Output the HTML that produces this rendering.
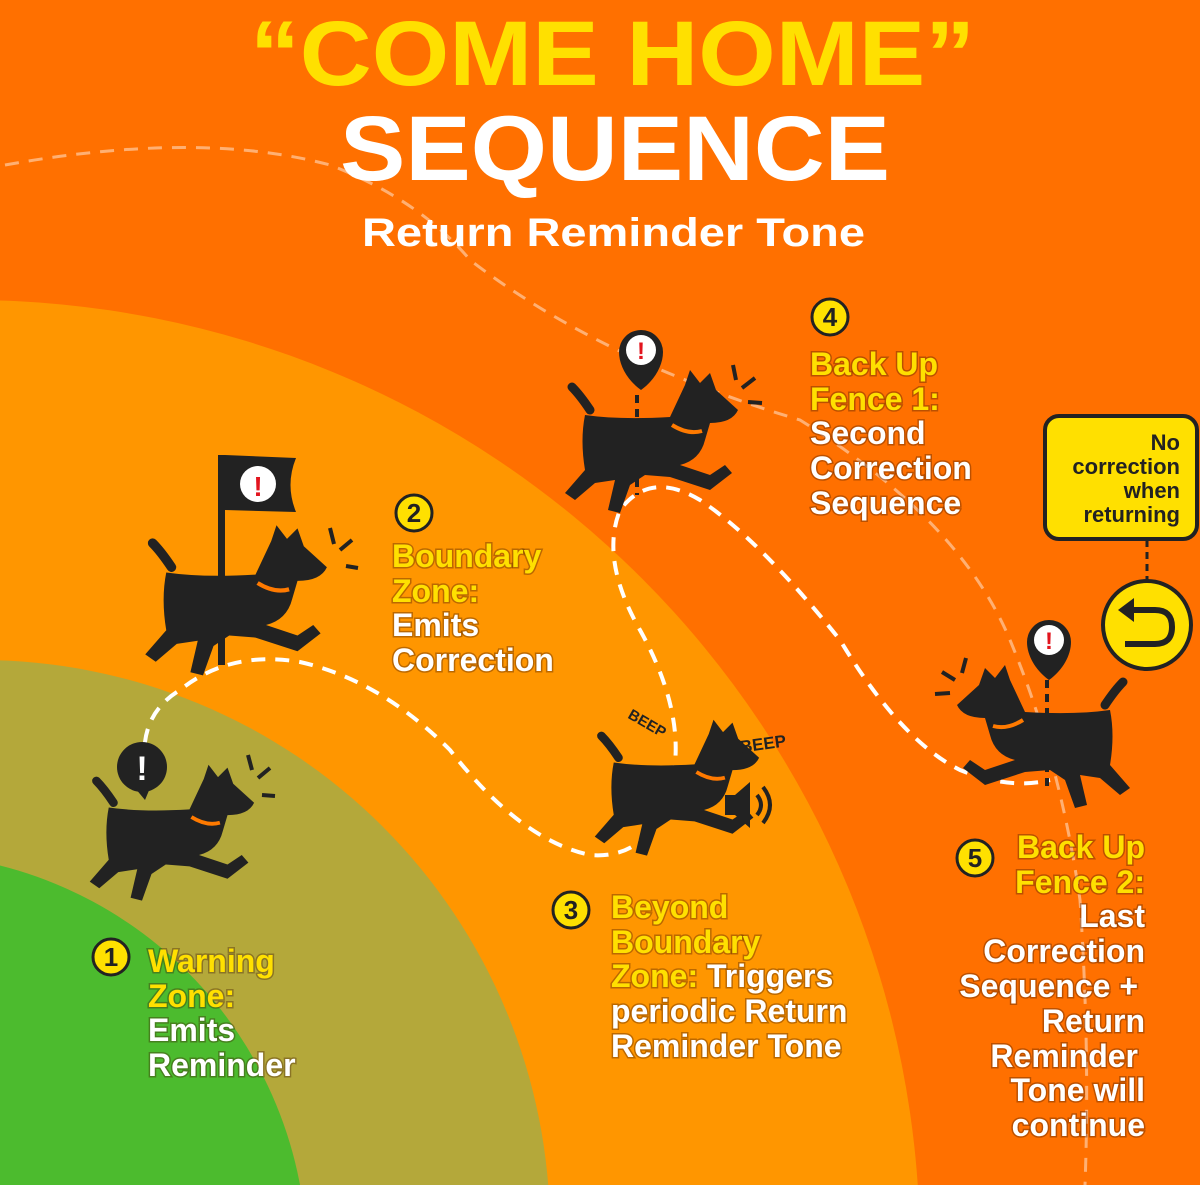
<!DOCTYPE html>
<html><head><meta charset="utf-8"><style>
html,body{margin:0;padding:0;width:1200px;height:1185px;overflow:hidden;background:#FF7000}
svg{display:block}
text{font-family:"Liberation Sans",sans-serif;font-weight:bold}
.t{font-size:32px;fill:#fff;paint-order:stroke;stroke:rgba(60,20,0,0.35);stroke-width:3px}
.y{fill:#FFE000}
</style></head><body>
<svg width="1200" height="1185" viewBox="0 0 1200 1185" xmlns="http://www.w3.org/2000/svg" style="position:absolute;left:0;top:0">
<defs>
<g id="dog">
<path d="M30 45 Q20 30 12 22" stroke="#222" stroke-width="9" fill="none" stroke-linecap="round"/>
<path d="M25 50 Q60 55 110 52 L125 20 L130 5 L140 18 L150 8 L156 25 L178 45 Q172 58 150 58 L145 75 Q140 95 120 100 L150 110 L165 100 L172 108 L150 125 L110 112 L85 110 L70 120 L60 148 L48 145 L55 115 L35 118 L15 135 L5 128 L25 105 Q20 75 25 50 Z" fill="#222"/>
<path d="M112 60 Q128 70 142 66" stroke="#FF7A00" stroke-width="4" fill="none"/>
</g>
<g id="pin">
<path d="M0 0 C-14 -10 -22 -25 -22 -38 A22 22 0 1 1 22 -38 C22 -25 14 -10 0 0Z" fill="#222"/>
<circle cx="0" cy="-40" r="15" fill="#fff"/>
<text x="0" y="-31" text-anchor="middle" style="font-size:24px;fill:#E2141E">!</text>
</g>
</defs>
<rect width="1200" height="1185" fill="#FF7000"/>
<circle cx="-30" cy="1250" r="950" fill="#FF9600"/>
<circle cx="-20" cy="1230" r="570" fill="#B4A83A"/>
<circle cx="-100" cy="1260" r="407" fill="#4CBB2E"/>

<g fill="none" stroke="#fff" stroke-width="4" stroke-dasharray="14 10">
<path d="M150 790 Q130 720 180 690 Q230 650 300 662 Q380 680 450 750 Q520 840 590 855 Q650 860 670 790 Q690 720 640 630 Q600 560 620 510 Q650 470 700 500 Q760 540 840 640 Q900 740 960 770 Q1010 790 1050 780"/>
</g>
<g fill="none" stroke="#fff" stroke-opacity="0.45" stroke-width="3" stroke-dasharray="14 10">
<path d="M5 165 Q200 130 330 165 Q420 200 470 260 Q600 360 800 420 Q960 520 1010 640 Q1060 760 1080 900 Q1090 1050 1085 1185"/>
</g>

<text x="250" y="85" textLength="725" lengthAdjust="spacingAndGlyphs" style="font-size:92px;fill:#FFE000">“COME HOME”</text>
<text x="340" y="180" textLength="550" lengthAdjust="spacingAndGlyphs" style="font-size:92px;fill:#fff">SEQUENCE</text>
<text x="362" y="246" textLength="503" lengthAdjust="spacingAndGlyphs" style="font-size:40px;fill:#fff">Return Reminder Tone</text>

<use href="#dog" transform="translate(85,760) scale(0.95)"/>
<circle cx="142" cy="767" r="25" fill="#222"/><path d="M135 788 L145 800 L150 788Z" fill="#222"/>
<text x="142" y="780" text-anchor="middle" style="font-size:34px;fill:#fff">!</text>
<g stroke="#222" stroke-width="4"><path d="M248 755 L252 770 M258 778 L270 768 M262 795 L275 796"/></g>

<rect x="218" y="455" width="7" height="210" fill="#222"/>
<path d="M225 455 L296 458 Q285 485 296 512 L225 510Z" fill="#222"/>
<circle cx="258" cy="484" r="18" fill="#fff"/><text x="258" y="496" text-anchor="middle" style="font-size:28px;fill:#E2141E">!</text>
<use href="#dog" transform="translate(140,520) scale(1.05)"/>
<g stroke="#222" stroke-width="4"><path d="M330 528 L334 544 M340 550 L352 540 M346 566 L358 568"/></g>

<use href="#pin" transform="translate(641,390)"/>
<use href="#dog" transform="translate(560,365) scale(1.0)"/>
<line x1="637" y1="395" x2="637" y2="495" stroke="#222" stroke-width="4" stroke-dasharray="8 6"/>
<g stroke="#222" stroke-width="4"><path d="M733 365 L736 380 M742 388 L755 378 M748 402 L762 403"/></g>

<use href="#dog" transform="translate(590,715) scale(0.95)"/>
<text x="625" y="725" transform="rotate(30 640 725)" style="font-size:15px;fill:#222">BEEP</text>
<text x="740" y="750" transform="rotate(-8 760 745)" style="font-size:17px;fill:#222">BEEP</text>
<path d="M725 795 L735 795 L750 782 L750 828 L735 815 L725 815Z" fill="#222"/>
<path d="M757 795 Q765 805 757 815 M763 787 Q777 805 763 823" stroke="#222" stroke-width="4" fill="none"/>

<use href="#pin" transform="translate(1049,680)"/>
<use href="#dog" transform="translate(1135,660) scale(-1.0,1.0)"/>
<line x1="1047" y1="680" x2="1047" y2="790" stroke="#222" stroke-width="4" stroke-dasharray="8 6"/>
<g stroke="#222" stroke-width="4"><path d="M966 658 L962 673 M955 680 L942 672 M950 693 L935 694"/></g>

<rect x="1045" y="416" width="152" height="123" rx="14" fill="#FFE000" stroke="#222" stroke-width="4"/>
<g text-anchor="end">
<text x="1180" y="450" style="font-size:22px;fill:#222">No</text>
<text x="1180" y="474" style="font-size:22px;fill:#222">correction</text>
<text x="1180" y="498" style="font-size:22px;fill:#222">when</text>
<text x="1180" y="522" style="font-size:22px;fill:#222">returning</text>
</g>
<line x1="1147" y1="540" x2="1147" y2="585" stroke="#222" stroke-width="3" stroke-dasharray="7 5"/>
<circle cx="1147" cy="625" r="44" fill="#FFE000" stroke="#222" stroke-width="4"/>
<path d="M1130 610 L1155 610 Q1172 610 1172 627 Q1172 644 1155 644 L1125 644" stroke="#222" stroke-width="6" fill="none"/>
<path d="M1118 610 L1134 598 L1134 622Z" fill="#222"/>

<g fill="#FFE000" stroke="#222" stroke-width="3">
<circle cx="111" cy="957" r="18"/><circle cx="414" cy="513" r="18"/><circle cx="571" cy="910" r="18"/><circle cx="830" cy="317" r="18"/><circle cx="975" cy="858" r="18"/>
</g>
<g text-anchor="middle">
<text x="111" y="966" style="font-size:26px;fill:#222">1</text>
<text x="414" y="522" style="font-size:26px;fill:#222">2</text>
<text x="571" y="919" style="font-size:26px;fill:#222">3</text>
<text x="830" y="326" style="font-size:26px;fill:#222">4</text>
<text x="975" y="867" style="font-size:26px;fill:#222">5</text>
</g>

<text class="t y" x="148" y="972">Warning</text>
<text class="t y" x="148" y="1007">Zone:</text>
<text class="t" x="148" y="1041">Emits</text>
<text class="t" x="148" y="1076">Reminder</text>

<text class="t y" x="392" y="567">Boundary</text>
<text class="t y" x="392" y="602">Zone:</text>
<text class="t" x="392" y="636">Emits</text>
<text class="t" x="392" y="671">Correction</text>

<text class="t y" x="611" y="918">Beyond</text>
<text class="t y" x="611" y="953">Boundary</text>
<text class="t" x="611" y="987"><tspan class="y">Zone:</tspan> Triggers</text>
<text class="t" x="611" y="1022">periodic Return</text>
<text class="t" x="611" y="1057">Reminder Tone</text>

<text class="t y" x="810" y="375">Back Up</text>
<text class="t y" x="810" y="410">Fence 1:</text>
<text class="t" x="810" y="444">Second</text>
<text class="t" x="810" y="479">Correction</text>
<text class="t" x="810" y="514">Sequence</text>

<g text-anchor="end">
<text class="t y" x="1145" y="858">Back Up</text>
<text class="t y" x="1145" y="893">Fence 2:</text>
<text class="t" x="1145" y="927">Last</text>
<text class="t" x="1145" y="962">Correction</text>
<text class="t" x="1138" y="997">Sequence +</text>
<text class="t" x="1145" y="1032">Return</text>
<text class="t" x="1138" y="1067">Reminder</text>
<text class="t" x="1145" y="1101">Tone will</text>
<text class="t" x="1145" y="1136">continue</text>
</g>
</svg>
</body></html>
